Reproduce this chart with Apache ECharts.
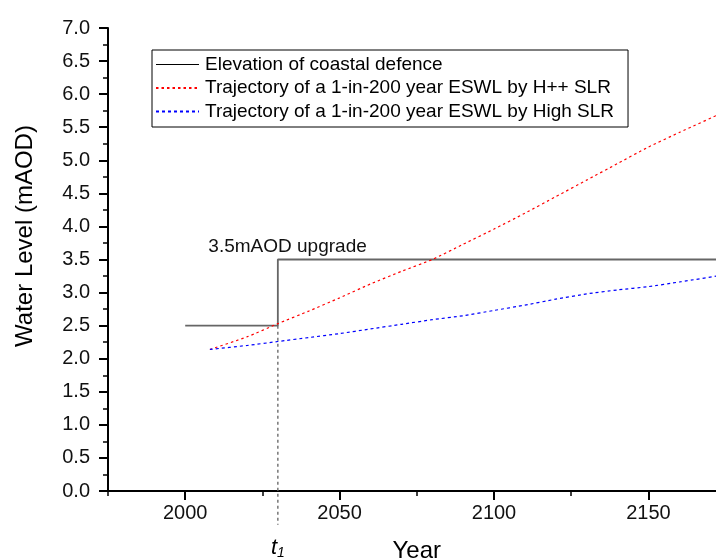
<!DOCTYPE html>
<html>
<head>
<meta charset="utf-8">
<script src="https://cdn.jsdelivr.net/npm/echarts@6/dist/echarts.min.js"></script>
<style>
  html, body { margin: 0; padding: 0; background: #fff; }
  #chart { width: 716px; height: 558px; }
</style>
</head>
<body>
<div id="chart"></div>
<script>
// Projected 1-in-200 year extreme still water levels (mAOD)
const years = [2008, 2020, 2030, 2040, 2050, 2060, 2070, 2080, 2090, 2100, 2110, 2120, 2130, 2140, 2150, 2160, 2175];
const hppSLR = [2.14, 2.33, 2.53, 2.72, 2.92, 3.13, 3.32, 3.50, 3.73, 3.96, 4.20, 4.45, 4.70, 4.95, 5.20, 5.42, 5.74];
const highSLR = [2.14, 2.20, 2.26, 2.32, 2.38, 2.45, 2.52, 2.59, 2.65, 2.73, 2.81, 2.90, 2.98, 3.04, 3.09, 3.16, 3.27];

// Coastal defence crest level, raised at t1
const defenceYears = [2000, 2030, 2030, 2175];
const defenceLevel = [2.5, 2.5, 3.5, 3.5];

// Upgrade time t1 marker
const upgradeYear = 2030;
const upgradeMarkLevels = [2.5, -0.51];

const xTickLabels = [2000, 2050, 2100, 2150];

const seriesNames = [
  'Elevation of coastal defence',
  'Trajectory of a 1-in-200 year ESWL by H++ SLR',
  'Trajectory of a 1-in-200 year ESWL by High SLR'
];

const FONT = '"Liberation Sans", Arial, sans-serif';
const zip = (xs, ys) => xs.map((x, i) => [x, ys[i]]);

const chart = echarts.init(document.getElementById('chart'), null, { renderer: 'canvas' });

chart.setOption({
  animation: false,
  backgroundColor: '#fff',
  grid: { left: 108, top: 28, width: 617.6, height: 463, containLabel: false, outerBoundsMode: 'none' },
  legend: {
    orient: 'vertical',
    left: 152,
    top: 50,
    padding: [5, 14, 6, 3],
    itemWidth: 43,
    itemHeight: 14,
    itemGap: 4.5,
    backgroundColor: '#fff',
    borderColor: '#000',
    borderWidth: 1,
    borderRadius: 0,
    itemStyle: { opacity: 0 },
    textStyle: { fontSize: 19, color: '#000', fontFamily: FONT, padding: [0, 0, 0, 1] },
    data: [
      { name: seriesNames[0], lineStyle: { color: '#000', width: 1 } },
      { name: seriesNames[1] },
      { name: seriesNames[2] }
    ]
  },
  xAxis: [
    {
      type: 'value',
      position: 'bottom',
      min: 1975,
      max: 2175,
      splitLine: { show: false },
      axisLine: { show: true, onZero: false, lineStyle: { color: '#000', width: 2 } },
      axisTick: { show: true, inside: false, length: 9, lineStyle: { color: '#000', width: 2 }, customValues: xTickLabels },
      axisLabel: { show: true, margin: 12, fontSize: 20, color: '#111', fontFamily: FONT, customValues: xTickLabels, formatter: v => String(v) },
      name: 'Year',
      nameLocation: 'middle',
      nameGap: 48,
      nameTextStyle: { fontSize: 24, color: '#000', fontFamily: FONT }
    },
    {
      // minor ticks every 25 years
      type: 'value',
      position: 'bottom',
      min: 1975,
      max: 2175,
      interval: 25,
      splitLine: { show: false },
      axisLine: { show: false, onZero: false },
      axisTick: { show: true, inside: false, length: 5, lineStyle: { color: '#000', width: 1.5 } },
      axisLabel: { show: false }
    }
  ],
  yAxis: {
    type: 'value',
    min: 0,
    max: 7,
    interval: 0.5,
    splitLine: { show: false },
    axisLine: { show: true, onZero: false, lineStyle: { color: '#000', width: 2 } },
    axisTick: { show: true, inside: false, length: 9, lineStyle: { color: '#000', width: 2 } },
    minorTick: { show: true, splitNumber: 2, length: 5, lineStyle: { color: '#000', width: 1.5 } },
    axisLabel: { margin: 18, fontSize: 20, color: '#111', fontFamily: FONT, formatter: v => v.toFixed(1) }
  },
  series: [
    {
      name: seriesNames[0],
      type: 'line',
      data: zip(defenceYears, defenceLevel),
      symbol: 'none',
      lineStyle: { color: '#666', width: 1.8 },
      itemStyle: { color: '#000' },
      z: 3,
      markPoint: {
        symbol: 'circle',
        symbolSize: 0,
        silent: true,
        label: {
          show: true,
          position: 'right',
          distance: 0,
          formatter: '3.5mAOD upgrade',
          fontSize: 19,
          color: '#111',
          fontFamily: FONT
        },
        data: [{ coord: [2007.5, 3.70] }]
      }
    },
    {
      name: seriesNames[1],
      type: 'line',
      data: zip(years, hppSLR),
      symbol: 'none',
      smooth: 0.2,
      lineStyle: { color: '#ff0000', width: 1.2, type: [2.5, 3] },
      itemStyle: { color: '#ff0000' },
      z: 4
    },
    {
      name: seriesNames[2],
      type: 'line',
      data: zip(years, highSLR),
      symbol: 'none',
      smooth: 0.2,
      lineStyle: { color: '#0000ff', width: 1.2, type: [3, 3] },
      itemStyle: { color: '#0000ff' },
      z: 4
    },
    {
      name: 't1',
      type: 'line',
      data: upgradeMarkLevels.map(v => [upgradeYear, v]),
      symbol: 'none',
      clip: false,
      lineStyle: { color: '#777', width: 1.5, type: [3, 3] },
      z: 2
    }
  ]
});

// Axis title and the t1 label below the axis, placed from data coordinates
const t1Pos = chart.convertToPixel({ gridIndex: 0 }, [upgradeYear, -0.86]);
chart.setOption({
  graphic: [
    {
      type: 'text',
      x: 25,
      y: 236,
      rotation: Math.PI / 2,
      style: {
        text: 'Water Level (mAOD)',
        fontSize: 24,
        fontFamily: FONT,
        fill: '#000',
        align: 'center',
        verticalAlign: 'middle'
      }
    },
    {
      type: 'text',
      x: t1Pos[0],
      y: t1Pos[1],
      style: {
        text: '{t|t}{s|1}',
        align: 'center',
        verticalAlign: 'middle',
        rich: {
          t: { fontSize: 22, fontStyle: 'italic', fill: '#000', fontFamily: FONT },
          s: { fontSize: 14, fontStyle: 'italic', fill: '#000', fontFamily: FONT, padding: [10, 0, 0, 0] }
        }
      }
    }
  ]
});
</script>
</body>
</html>
